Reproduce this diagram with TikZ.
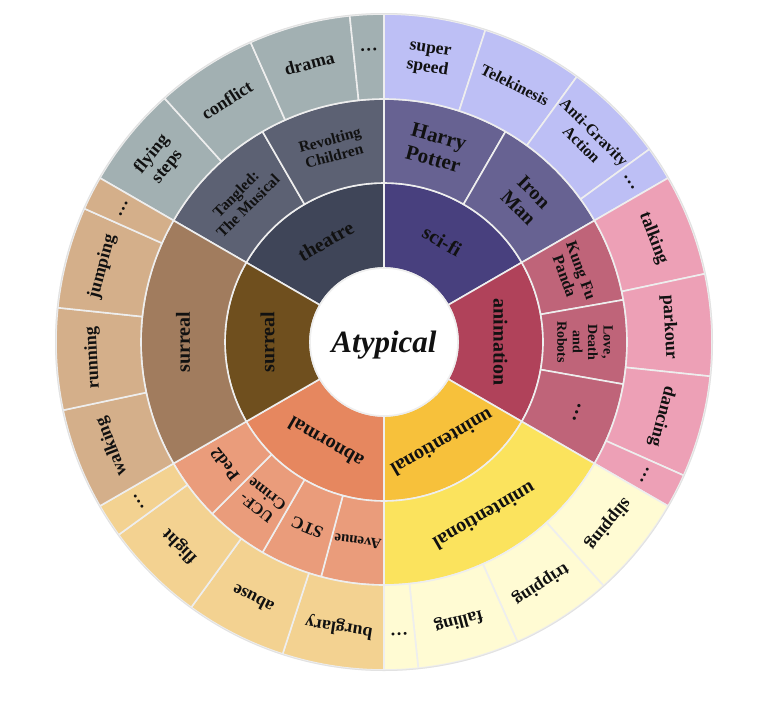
\documentclass[tikz,border=0pt]{standalone}
\usepackage{fontspec}
\setmainfont{Liberation Serif}
\definecolor{th1}{HTML}{3F4558}\definecolor{th2}{HTML}{5C6173}\definecolor{th3}{HTML}{A2B0B2}
\definecolor{sf1}{HTML}{48407E}\definecolor{sf2}{HTML}{676292}\definecolor{sf3}{HTML}{BDBFF5}
\definecolor{an1}{HTML}{B0425A}\definecolor{an2}{HTML}{BF6479}\definecolor{an3}{HTML}{EDA0B6}
\definecolor{un1}{HTML}{F7C13B}\definecolor{un2}{HTML}{FBE35D}\definecolor{un3}{HTML}{FFFBD3}
\definecolor{ab1}{HTML}{E6875F}\definecolor{ab2}{HTML}{EA9C7B}\definecolor{ab3}{HTML}{F3D291}
\definecolor{su1}{HTML}{6F4F1E}\definecolor{su2}{HTML}{A17C5E}\definecolor{su3}{HTML}{D4AF8A}
\definecolor{sepc}{HTML}{EEEEEE}
\definecolor{bordc}{HTML}{E2E2E2}
\definecolor{txt}{HTML}{111111}
\tikzset{
  segline/.style={draw=sepc, line width=1.6pt, line join=round},
  lbl/.style={text=txt, align=center, inner sep=0pt},
}
% #1 name, #2 r in, #3 r out, #4 start angle, #5 end angle, #6 colour, #7 font size, #8 text, #9 radial offset
\newcommand{\ringseg}[9]{%
  \pgfmathsetmacro{\rsMid}{(#4+#5)/2}%
  \pgfmathsetmacro{\rsRot}{\rsMid-90}%
  \pgfmathsetmacro{\rsRad}{(#2+#3)/2+#9}%
  \pgfmathsetmacro{\rsLead}{#7*1.1}%
  \filldraw[segline, fill=#6] (#4:#2pt) arc[start angle=#4, end angle=#5, radius=#2pt]
     -- (#5:#3pt) arc[start angle=#5, end angle=#4, radius=#3pt] -- cycle;
  \node[lbl, font={\bfseries\fontsize{#7}{\rsLead}\selectfont}, rotate=\rsRot]
     (#1) at (\rsMid:\rsRad pt) {#8};%
}
\begin{document}
\begin{tikzpicture}
\useasboundingbox (0,0) rectangle (768pt,-704pt);
\fill[white] (0,0) rectangle (768pt,-704pt);
\begin{scope}[shift={(384pt,-342pt)}]
% ring 1
\ringseg{theatre}{74}{159}{90}{150}{th1}{20}{theatre}{0}
\ringseg{scifi}{74}{159}{30}{90}{sf1}{20}{sci-fi}{0}
\ringseg{animation}{74}{159}{-30}{30}{an1}{20}{animation}{0}
\ringseg{unintA}{74}{159}{-90}{-30}{un1}{20}{unintentional}{0}
\ringseg{abnormal}{74}{159}{-150}{-90}{ab1}{20}{abnormal}{0}
\ringseg{surrealA}{74}{159}{150}{210}{su1}{20}{surreal}{0}
% ring 2
\ringseg{tangled}{159}{243}{120}{150}{th2}{15.5}{Tangled:\\The Musical}{0}
\ringseg{revolting}{159}{243}{90}{120}{th2}{15.5}{Revolting\\Children}{0}
\ringseg{harry}{159}{243}{60}{90}{sf2}{21}{Harry\\Potter}{0}
\ringseg{ironman}{159}{243}{30}{60}{sf2}{20}{Iron\\Man}{0}
\ringseg{kungfu}{159}{243}{10}{30}{an2}{16}{Kung Fu\\Panda}{0}
\ringseg{lovedeath}{159}{243}{-10}{10}{an2}{14}{Love,\\Death\\and\\Robots}{0}
\ringseg{anmore}{159}{243}{-30}{-10}{an2}{20}{…}{4}
\ringseg{unintB}{159}{243}{-90}{-30}{un2}{20}{unintentional}{0}
\ringseg{avenue}{159}{243}{-105}{-90}{ab2}{15}{Avenue}{0}
\ringseg{stc}{159}{243}{-120}{-105}{ab2}{17}{STC}{0}
\ringseg{ucf}{159}{243}{-135}{-120}{ab2}{16}{UCF-\\Crime}{0}
\ringseg{ped}{159}{243}{-150}{-135}{ab2}{17}{Ped2}{0}
\ringseg{surrealB}{159}{243}{150}{210}{su2}{20}{surreal}{0}
% ring 3
\ringseg{flying}{243}{328}{132}{150}{th3}{18}{flying\\steps}{3}
\ringseg{conflict}{243}{328}{114}{132}{th3}{18}{conflict}{3}
\ringseg{drama}{243}{328}{96}{114}{th3}{18}{drama}{3}
\ringseg{thmore}{243}{328}{90}{96}{th3}{18}{…}{7}
\ringseg{superspeed}{243}{328}{72}{90}{sf3}{17.5}{super\\speed}{0}
\ringseg{telekinesis}{243}{328}{54}{72}{sf3}{16}{Telekinesis}{3}
\ringseg{antigravity}{243}{328}{36}{54}{sf3}{16}{Anti-Gravity\\Action}{3}
\ringseg{sfmore}{243}{328}{30}{36}{sf3}{18}{…}{7}
\ringseg{talking}{243}{328}{12}{30}{an3}{18}{talking}{3}
\ringseg{parkour}{243}{328}{-6}{12}{an3}{18}{parkour}{0}
\ringseg{dancing}{243}{328}{-24}{-6}{an3}{18}{dancing}{2}
\ringseg{anmoreC}{243}{328}{-30}{-24}{an3}{18}{…}{7}
\ringseg{slipping}{243}{328}{-48}{-30}{un3}{18}{slipping}{3}
\ringseg{tripping}{243}{328}{-66}{-48}{un3}{18}{tripping}{3}
\ringseg{falling}{243}{328}{-84}{-66}{un3}{18}{falling}{3}
\ringseg{unmore}{243}{328}{-90}{-84}{un3}{18}{…}{7}
\ringseg{burglary}{243}{328}{-108}{-90}{ab3}{18}{burglary}{3}
\ringseg{abuse}{243}{328}{-126}{-108}{ab3}{18}{abuse}{3}
\ringseg{flight}{243}{328}{-144}{-126}{ab3}{18}{flight}{3}
\ringseg{abmore}{243}{328}{-150}{-144}{ab3}{18}{…}{7}
\ringseg{walking}{243}{328}{192}{210}{su3}{18}{walking}{6}
\ringseg{running}{243}{328}{174}{192}{su3}{18}{running}{6}
\ringseg{jumping}{243}{328}{156}{174}{su3}{18}{jumping}{6}
\ringseg{sumore}{243}{328}{150}{156}{su3}{18}{…}{7}
% outer border and centre
\draw[bordc, line width=1pt] (0,0) circle[radius=328.5pt];
\filldraw[fill=white, draw=sepc, line width=1.6pt] (0,0) circle[radius=74pt];
\node[lbl, font={\bfseries\itshape\fontsize{31}{34}\selectfont}] (center) at (0pt,-3pt) {Atypical};
\end{scope}
\end{tikzpicture}
\end{document}
